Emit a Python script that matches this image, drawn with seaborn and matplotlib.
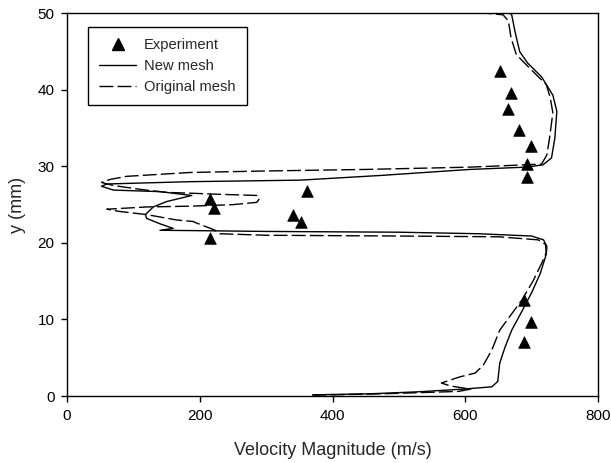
import matplotlib
matplotlib.use("Agg")
import matplotlib.pyplot as plt
import seaborn as sns
from matplotlib.lines import Line2D

# Measured velocity magnitude (m/s) at height y (mm)
exp_vel = [652, 669, 664, 681, 699, 693, 693, 362, 340, 352, 216, 221, 216, 688, 699, 688]
exp_y = [42.4, 39.6, 37.5, 34.8, 32.7, 30.3, 28.6, 26.8, 23.7, 22.7, 25.7, 24.5, 20.6, 12.5, 9.7, 7.0]

# Simulated profile on the refined grid, traced from the wall upward
new_vel = [370, 460, 532, 597, 640, 649, 652, 660, 670, 685, 700, 713, 722, 723, 718,
           700, 620, 500, 300, 200, 140, 160, 140, 120, 118, 130, 150, 188, 140, 70,
           52, 60, 185, 351, 470, 607, 692, 717, 730, 735, 738, 732, 715, 694, 682,
           675, 670, 667]
new_y = [0.15, 0.3, 0.56, 0.9, 1.2, 1.9, 4.3, 6.4, 8.6, 11.0, 13.5, 16.0, 18.5, 19.5, 20.4,
         20.9, 21.2, 21.4, 21.5, 21.6, 21.65, 21.9, 22.5, 23.2, 23.7, 24.7, 25.4, 26.2, 26.7, 26.9,
         27.4, 27.7, 28.0, 28.2, 28.8, 29.6, 29.9, 30.2, 31.1, 33.7, 37.2, 39.3, 41.7, 43.5, 45.0,
         47.6, 49.8, 50.0]

# Simulated profile on the original grid
orig_vel = [370, 480, 590, 608, 578, 564, 592, 615, 627, 640, 652, 668, 685, 702, 716,
            722, 721, 710, 650, 500, 300, 230, 222, 210, 195, 190, 165, 120, 80, 60,
            120, 185, 250, 286, 290, 286, 230, 185, 150, 110, 70, 52, 65, 90, 185,
            300, 450, 607, 690, 715, 723, 727, 732, 728, 722, 702, 677, 669, 665, 657,
            632]
orig_y = [0.1, 0.3, 0.6, 0.9, 1.3, 1.7, 2.5, 3.0, 4.0, 6.0, 8.6, 10.5, 12.5, 15.0, 17.5,
          18.7, 19.8, 20.4, 20.8, 20.9, 21.0, 21.2, 21.7, 22.1, 22.6, 22.8, 23.0, 23.7, 24.1, 24.4,
          24.7, 24.8, 25.0, 25.3, 25.8, 26.2, 26.35, 26.5, 26.6, 27.0, 27.5, 27.9, 28.3, 28.7, 29.2,
          29.4, 29.6, 29.9, 30.2, 30.3, 31.5, 33.7, 37.0, 39.0, 40.7, 42.4, 44.6, 46.8, 49.0, 49.8,
          50.0]

x_ticks = [0, 200, 400, 600, 800]
y_ticks = [0, 10, 20, 30, 40, 50]

sns.set_style("ticks")
plt.rcParams["font.family"] = ["Liberation Sans", "DejaVu Sans"]

fig = plt.figure(figsize=(6.11, 4.63), dpi=100)
ax = fig.add_axes([0.1097, 0.1447, 0.869, 0.8266])

sns.lineplot(x=new_vel, y=new_y, sort=False, estimator=None, color="black",
             linewidth=1.0, ax=ax)
sns.lineplot(x=orig_vel, y=orig_y, sort=False, estimator=None, color="black",
             linewidth=1.0, linestyle=(0, (10, 3)), ax=ax)
sns.scatterplot(x=exp_vel, y=exp_y, marker="^", color="black", s=70,
                edgecolor="black", linewidth=0.5, zorder=5, ax=ax)

ax.set_xlim(0, 800)
ax.set_ylim(0, 50)
ax.set_xticks(x_ticks)
ax.set_yticks(y_ticks)
ax.tick_params(direction="out", length=4, width=1, labelsize=11, pad=5,
               colors="black")
for sp in ax.spines.values():
    sp.set_visible(True)
    sp.set_color("black")
    sp.set_linewidth(1.0)

ax.set_xlabel("Velocity Magnitude (m/s)", fontsize=13, labelpad=14)
ax.set_ylabel("y (mm)", fontsize=13, labelpad=8)

handles = [
    Line2D([], [], marker="^", color="black", linestyle="none", markersize=8),
    Line2D([], [], color="black", linewidth=1.0),
    Line2D([], [], color="black", linewidth=1.0, linestyle=(0, (10, 3))),
]
labels = ["Experiment", "New mesh", "Original mesh"]
leg = ax.legend(handles, labels, loc="upper left", bbox_to_anchor=(0.04, 0.963),
                prop={"size": 10.6}, frameon=True, fancybox=False, framealpha=1,
                edgecolor="black", handlelength=2.5, handletextpad=0.55,
                labelspacing=0.45, borderpad=0.75, borderaxespad=0)
leg.get_frame().set_linewidth(1.0)

fig.savefig("out.png", dpi=100)
